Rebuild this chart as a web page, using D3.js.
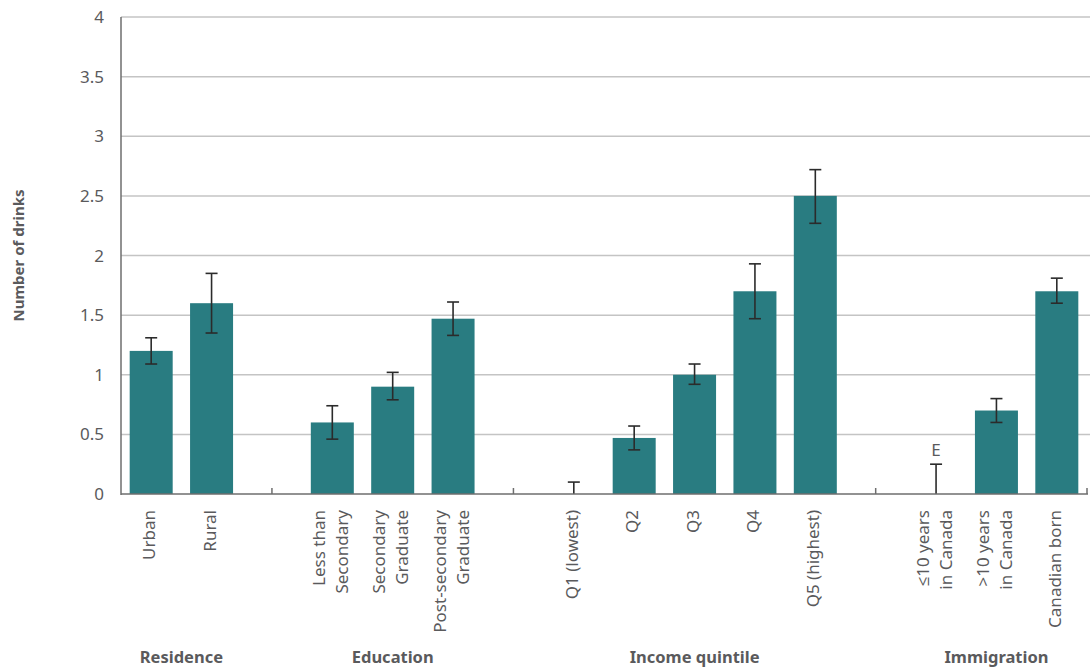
<!DOCTYPE html>
<html><head><meta charset="utf-8">
<script src="https://cdn.jsdelivr.net/npm/d3@7"></script>
<style>body{margin:0;background:#fff}svg{display:block}text{font-family:"Noto Sans","Open Sans",sans-serif}</style>
</head><body>
<script>
(function(){
const slots = ["Urban","Rural","gap1","Less than|Secondary","Secondary|Graduate","Post-secondary|Graduate","gap2",
  "Q1 (lowest)","Q2","Q3","Q4","Q5 (highest)","gap3","≤10 years|in Canada",">10 years|in Canada","Canadian born"];
const categories = ["Urban","Rural","Less than|Secondary","Secondary|Graduate","Post-secondary|Graduate",
  "Q1 (lowest)","Q2","Q3","Q4","Q5 (highest)","≤10 years|in Canada",">10 years|in Canada","Canadian born"];
const values = [1.2,1.6,0.6,0.9,1.47,null,0.47,1.0,1.7,2.5,null,0.7,1.7];
const lower  = [1.09,1.35,0.46,0.79,1.33,0,0.37,0.92,1.47,2.27,0,0.6,1.6];
const upper  = [1.31,1.85,0.74,1.02,1.61,0.1,0.57,1.09,1.93,2.72,0.25,0.8,1.81];
const flags  = ["","","","","","","","","","","E","",""];
const groups = ["Residence","Education","Income quintile","Immigration"];
const groupMembers = [["Urban","Rural"],["Less than|Secondary","Post-secondary|Graduate"],["Q1 (lowest)","Q5 (highest)"],["≤10 years|in Canada","Canadian born"]];
const separators = ["gap1","gap2","gap3"];
const yTicks = [0,0.5,1,1.5,2,2.5,3,3.5,4];

const W=1090,H=668, mL=121, mR=1087, mT=17, mB=494;
const svg=d3.select("body").append("svg").attr("width",W).attr("height",H);
const xs=d3.scaleBand().domain(slots).range([mL,mR]);
const y=d3.scaleLinear().domain([0,4]).range([mB,mT]);
const step=xs.step(), bw=43;
const cx=c=>xs(c)+step/2;
const textCol="#5a5a5c";

svg.append("g").selectAll("line").data(yTicks.filter(d=>d>0)).join("line")
  .attr("x1",mL).attr("x2",W).attr("y1",d=>y(d)).attr("y2",d=>y(d))
  .attr("stroke","#c4c4c4").attr("stroke-width",1.5);
svg.append("g").selectAll("text").data(yTicks).join("text")
  .attr("x",104).attr("y",d=>y(d)+6).attr("text-anchor","end")
  .style("font-size","17px").attr("fill",textCol).text(d=>d);
svg.append("text").attr("transform",`translate(24,${(mT+mB)/2}) rotate(-90)`)
  .attr("text-anchor","middle").style("font-size","15px").attr("font-weight","bold").attr("fill",textCol).text("Number of drinks");

const data=categories.map((c,i)=>({c,v:values[i],lo:lower[i],hi:upper[i],f:flags[i]}));
svg.append("g").selectAll("rect").data(data.filter(d=>d.v!=null)).join("rect")
  .attr("x",d=>cx(d.c)-bw/2).attr("width",bw).attr("y",d=>y(d.v)).attr("height",d=>y(0)-y(d.v))
  .attr("fill","#297c81");
const eb=svg.append("g").attr("stroke","#2b2b2b").attr("stroke-width",1.6);
data.forEach(d=>{
  const X=cx(d.c);
  eb.append("line").attr("x1",X).attr("x2",X).attr("y1",y(d.lo)).attr("y2",y(d.hi));
  eb.append("line").attr("x1",X-6).attr("x2",X+6).attr("y1",y(d.hi)).attr("y2",y(d.hi));
  if(d.lo>0) eb.append("line").attr("x1",X-6).attr("x2",X+6).attr("y1",y(d.lo)).attr("y2",y(d.lo));
  if(d.f) svg.append("text").attr("x",X).attr("y",y(d.hi)-8).attr("text-anchor","middle")
     .style("font-size","17px").attr("fill",textCol).text(d.f);
});

svg.append("line").attr("x1",mL).attr("x2",mL).attr("y1",mT).attr("y2",mB+1).attr("stroke","#6e6e6e").attr("stroke-width",1.5);
svg.append("line").attr("x1",mL).attr("x2",mR+1).attr("y1",mB).attr("y2",mB).attr("stroke","#6e6e6e").attr("stroke-width",1.5);
separators.map(s=>cx(s)).concat([mR]).forEach(X=>{
  svg.append("line").attr("x1",X).attr("x2",X).attr("y1",mB).attr("y2",mB-6).attr("stroke","#6e6e6e").attr("stroke-width",1.5);
});

categories.forEach(c=>{
  const lines=c.split("|"), X=cx(c);
  lines.forEach((ln,j)=>{
    const off=(j-(lines.length-1)/2)*23;
    svg.append("text").attr("transform",`translate(${X+off+4},510) rotate(-90)`)
      .attr("text-anchor","end").style("font-size","17px").attr("fill",textCol).text(ln);
  });
});
groups.forEach((g,i)=>{
  const [a,b]=groupMembers[i];
  svg.append("text").attr("x",(cx(a)+cx(b))/2).attr("y",663).attr("text-anchor","middle")
    .style("font-size","16.5px").attr("font-weight","bold").attr("fill",textCol).text(g);
});
})();
</script>
</body></html>
